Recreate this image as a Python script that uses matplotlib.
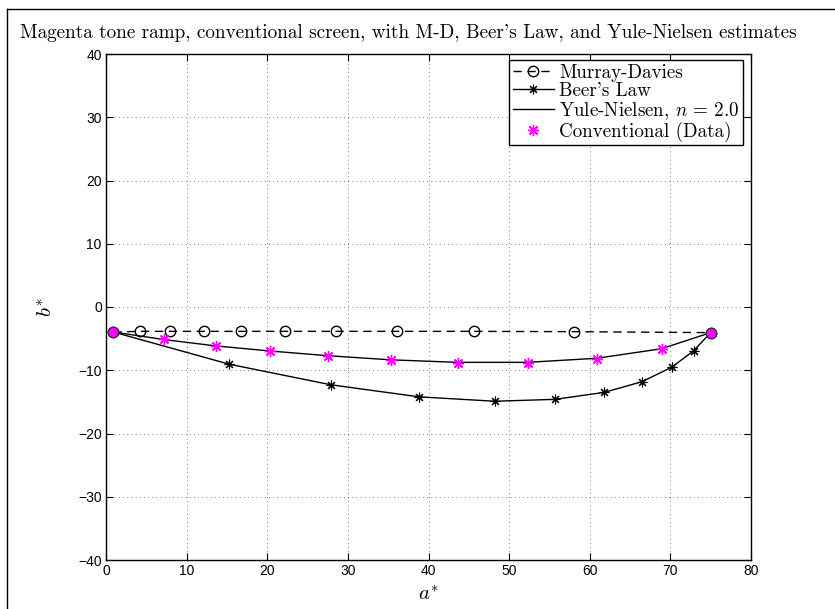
import numpy as np
import matplotlib
matplotlib.use("Agg")
import matplotlib.pyplot as plt
from matplotlib.lines import Line2D

plt.rcParams['mathtext.fontset'] = 'cm'
plt.rcParams['font.family'] = ['Liberation Sans', 'DejaVu Sans']
plt.rcParams['axes.unicode_minus'] = True

# ── data ─────────────────────────────────────────────────────────────────────
md_a = [0.9, 4.2, 7.9, 12.1, 16.8, 22.2, 28.5, 36.1, 45.7, 58.0, 75.0]
md_b = [-3.95, -3.85, -3.85, -3.85, -3.85, -3.85, -3.85, -3.85, -3.85, -3.9, -4.05]

beer_a = [0.9, 15.3, 27.9, 38.8, 48.2, 55.7, 61.8, 66.5, 70.2, 72.9, 75.0]
beer_b = [-3.95, -9.05, -12.3, -14.2, -14.9, -14.6, -13.5, -11.8, -9.5, -6.9, -4.05]

yn_a = [0.9, 7.2, 13.6, 20.3, 27.5, 35.3, 43.6, 52.3, 60.9, 68.9, 75.0]
yn_b = [-3.95, -5.15, -6.15, -6.95, -7.7, -8.35, -8.75, -8.75, -8.1, -6.6, -4.05]

data_a = [0.9, 7.2, 13.6, 20.3, 27.5, 35.3, 43.6, 52.3, 60.9, 68.9, 75.0]
data_b = [-3.95, -5.1, -6.1, -6.95, -7.7, -8.4, -8.85, -8.85, -8.15, -6.6, -4.05]

xticks = np.arange(0, 81, 10)
yticks = np.arange(-40, 41, 10)

W, H = 835, 609
fig = plt.figure(figsize=(W / 100, H / 100), dpi=100)
ax = fig.add_axes([106 / W, 1 - 560 / H, (751 - 106) / W, (560 - 54) / H])

ast = (8, 2, 0)  # 8-point asterisk, like MATLAB's '*'
ax.plot(md_a, md_b, '--', color='black', lw=1.0, dashes=(6, 4),
        marker='o', ms=7.5, mfc='none', mec='black', mew=1.0, label='Murray-Davies')
ax.plot(beer_a, beer_b, '-', color='black', lw=1.0,
        marker=ast, ms=7, mew=0.8, label="Beer's Law")
ax.plot(yn_a, yn_b, '-', color='black', lw=1.0, label='Yule-Nielsen, $n\\,=\\,2.0$')
ax.plot(data_a, data_b, ls='none', marker=ast, ms=8, mew=1.0, color='magenta',
        label='Conventional (Data)')
# end points: filled circle
ax.plot([data_a[0], data_a[-1]], [data_b[0], data_b[-1]], ls='none', marker='o',
        ms=7.5, mfc='magenta', mec='#333333', mew=0.8, zorder=5)

ax.set_xlim(0, 80)
ax.set_ylim(-40, 40)
ax.set_xticks(xticks)
ax.set_yticks(yticks)
ax.tick_params(direction='in', length=5, width=0.8, labelsize=10,
               top=True, right=True, pad=3)
for s in ax.spines.values():
    s.set_linewidth(1.0)
ax.grid(True, color='#555555', linestyle=(0, (1, 4)), linewidth=0.6)
ax.set_axisbelow(True)

ax.set_xlabel('$a^{*}$', fontsize=15, labelpad=5)
ax.set_ylabel('$b^{*}$', fontsize=15, labelpad=16)

leg = ax.legend(loc='upper right', bbox_to_anchor=(743 / W, 1 - 60 / H),
                bbox_transform=fig.transFigure, prop={'family': 'cmr10', 'size': 13.7},
                frameon=True, fancybox=False, edgecolor='black', framealpha=1,
                borderpad=0.2, labelspacing=0.0, handlelength=2.2,
                handletextpad=0.25, borderaxespad=0)
leg.get_frame().set_linewidth(1.0)

fig.text(20 / W, 1 - 33 / H,
         "Magenta tone ramp, conventional screen, with M-D, Beer's Law, and Yule-Nielsen estimates",
         family='cmr10', fontsize=13.8, ha='left', va='center')

# figure frame (top and left edge)
fig.add_artist(Line2D([7 / W, 1.0], [1 - 9 / H, 1 - 9 / H], transform=fig.transFigure,
                      color='black', lw=1.0))
fig.add_artist(Line2D([7 / W, 7 / W], [0, 1 - 9 / H], transform=fig.transFigure,
                      color='black', lw=1.0))

fig.savefig('out.png', dpi=100)
